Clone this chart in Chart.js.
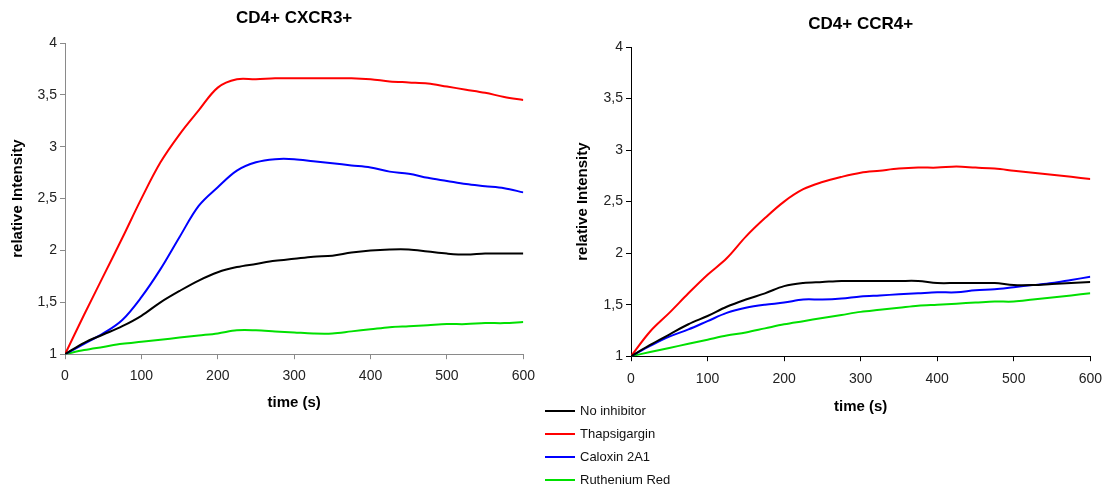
<!DOCTYPE html>
<html>
<head>
<meta charset="utf-8">
<script src="https://cdn.jsdelivr.net/npm/chart.js@4.4.1/dist/chart.umd.min.js"></script>
<style>
  body { margin: 0; background: #fff; width: 1107px; height: 488px; overflow: hidden; position: relative; font-family: "Liberation Sans", Arial, sans-serif; }
  .box { position: absolute; }
  #legend { position: absolute; left: 545px; top: 399px; font-size: 13px; color: #111; }
  .item { height: 23px; display: flex; align-items: center; }
  .swatch { width: 30px; height: 2px; margin-right: 5px; }
</style>
</head>
<body>
<div class="box" style="left:0px;top:0px;width:544px;height:412px;"><canvas id="left"></canvas></div>
<div class="box" style="left:560px;top:0px;width:552px;height:416px;"><canvas id="right"></canvas></div>
<div id="legend"></div>
<script>
// time points (s)
var times = [0,25,50,75,100,125,150,175,200,225,250,275,300,325,350,375,400,425,450,475,500,525,550,575,600];

var seriesNames = ["No inhibitor", "Thapsigargin", "Caloxin 2A1", "Ruthenium Red"];
var seriesColors = ["#000000", "#ff0000", "#0000ff", "#00e000"];

// CD4+ CXCR3+
var cxcr3NoInhibitor = [1,1.11,1.19,1.27,1.37,1.5,1.61,1.71,1.79,1.84,1.87,1.9,1.92,1.94,1.95,1.98,2.0,2.01,2.01,1.99,1.97,1.96,1.97,1.97,1.97];
var cxcr3Thapsigargin = [1,1.38,1.75,2.12,2.5,2.85,3.12,3.35,3.57,3.65,3.65,3.66,3.66,3.66,3.66,3.66,3.65,3.63,3.62,3.61,3.58,3.55,3.52,3.48,3.45];
var cxcr3Caloxin = [1,1.1,1.2,1.33,1.55,1.82,2.13,2.43,2.61,2.77,2.85,2.88,2.88,2.86,2.84,2.82,2.8,2.76,2.74,2.7,2.67,2.64,2.62,2.6,2.56];
var cxcr3Ruthenium = [1,1.04,1.07,1.1,1.12,1.14,1.16,1.18,1.2,1.23,1.23,1.22,1.21,1.2,1.2,1.22,1.24,1.26,1.27,1.28,1.29,1.29,1.3,1.3,1.31];

// CD4+ CCR4+
var ccr4NoInhibitor = [1,1.11,1.21,1.31,1.39,1.48,1.55,1.61,1.68,1.71,1.72,1.73,1.73,1.73,1.73,1.73,1.71,1.71,1.71,1.71,1.69,1.69,1.7,1.71,1.72];
var ccr4Thapsigargin = [1,1.24,1.42,1.61,1.79,1.95,2.16,2.34,2.5,2.62,2.69,2.74,2.78,2.8,2.82,2.83,2.83,2.84,2.83,2.82,2.8,2.78,2.76,2.74,2.72];
var ccr4Caloxin = [1,1.1,1.19,1.26,1.34,1.42,1.47,1.5,1.52,1.55,1.55,1.56,1.58,1.59,1.6,1.61,1.62,1.62,1.64,1.65,1.67,1.69,1.71,1.74,1.77];
var ccr4Ruthenium = [1,1.04,1.08,1.12,1.16,1.2,1.23,1.27,1.31,1.34,1.37,1.4,1.43,1.45,1.47,1.49,1.5,1.51,1.52,1.53,1.53,1.55,1.57,1.59,1.61];

var xTicks = [0,100,200,300,400,500,600];
var yTicks = [1,1.5,2,2.5,3,3.5,4];

function makeDatasets(list) {
  var sets = [];
  for (var i = 0; i < list.length; i++) {
    var pts = [];
    for (var j = 0; j < times.length; j++) {
      pts.push({ x: times[j], y: list[i][j] });
    }
    sets.push({
      label: seriesNames[i],
      data: pts,
      borderColor: seriesColors[i],
      backgroundColor: seriesColors[i],
      borderWidth: 2,
      pointRadius: 0,
      tension: 0.35,
      fill: false
    });
  }
  return sets;
}

function makeChart(id, title, list, opts) {
  var ctx = document.getElementById(id).getContext("2d");
  return new Chart(ctx, {
    type: "line",
    data: { datasets: makeDatasets(list) },
    options: {
      responsive: true,
      maintainAspectRatio: false,
      animation: false,
      layout: { padding: { top: 0, right: opts.right, bottom: 0, left: opts.left } },
      plugins: {
        legend: { display: false },
        tooltip: { enabled: false },
        title: {
          display: true,
          fullSize: false, // centre over the plot area
          text: title,
          color: "#000",
          font: { family: "Liberation Sans", size: 17, weight: "bold" },
          padding: { top: opts.titleTop, bottom: opts.titleBottom }
        }
      },
      scales: {
        x: {
          type: "linear",
          min: 0,
          max: 600,
          afterBuildTicks: function (axis) {
            axis.ticks = xTicks.map(function (v) { return { value: v }; });
          },
          grid: { drawOnChartArea: false, drawTicks: true, tickLength: 5, color: opts.axisColor },
          border: { display: true, color: opts.axisColor, width: 1 },
          ticks: { color: "#222", font: { family: "Liberation Sans", size: 14 }, padding: opts.xTickPad, maxRotation: 0 },
          title: {
            display: true,
            text: "time (s)",
            color: "#000",
            font: { family: "Liberation Sans", size: 15, weight: "bold" },
            padding: { top: opts.xTitlePad, bottom: 0 }
          }
        },
        y: {
          min: 1,
          max: 4,
          afterBuildTicks: function (axis) {
            axis.ticks = yTicks.map(function (v) { return { value: v }; });
          },
          afterFit: function (axis) { axis.width = opts.yWidth; },
          grid: { drawOnChartArea: false, drawTicks: true, tickLength: 5, color: opts.axisColor },
          border: { display: true, color: opts.axisColor, width: 1 },
          ticks: {
            color: "#222",
            font: { family: "Liberation Sans", size: 14 },
            padding: 3,
            callback: function (v) { return String(v).replace(".", ","); }
          },
          title: {
            display: true,
            text: "relative Intensity",
            color: "#000",
            font: { family: "Liberation Sans", size: 15, weight: "bold" },
            padding: { top: 0, bottom: 4 }
          }
        }
      }
    }
  });
}

makeChart("left", "CD4+ CXCR3+", [cxcr3NoInhibitor, cxcr3Thapsigargin, cxcr3Caloxin, cxcr3Ruthenium],
  { left: 9, right: 17, yWidth: 56, titleTop: 8, titleBottom: 14.6, xTickPad: 9, xTitlePad: 0, axisColor: "#8a8a8a" });
makeChart("right", "CD4+ CCR4+", [ccr4NoInhibitor, ccr4Thapsigargin, ccr4Caloxin, ccr4Ruthenium],
  { left: 14, right: 17, yWidth: 57, titleTop: 14, titleBottom: 12.6, xTickPad: 10, xTitlePad: 0, axisColor: "#000000" });

// legend
var legend = document.getElementById("legend");
for (var i = 0; i < seriesNames.length; i++) {
  var row = document.createElement("div");
  row.className = "item";
  var sw = document.createElement("div");
  sw.className = "swatch";
  sw.style.background = seriesColors[i];
  var txt = document.createElement("span");
  txt.textContent = seriesNames[i];
  row.appendChild(sw);
  row.appendChild(txt);
  legend.appendChild(row);
}
</script>
</body>
</html>
